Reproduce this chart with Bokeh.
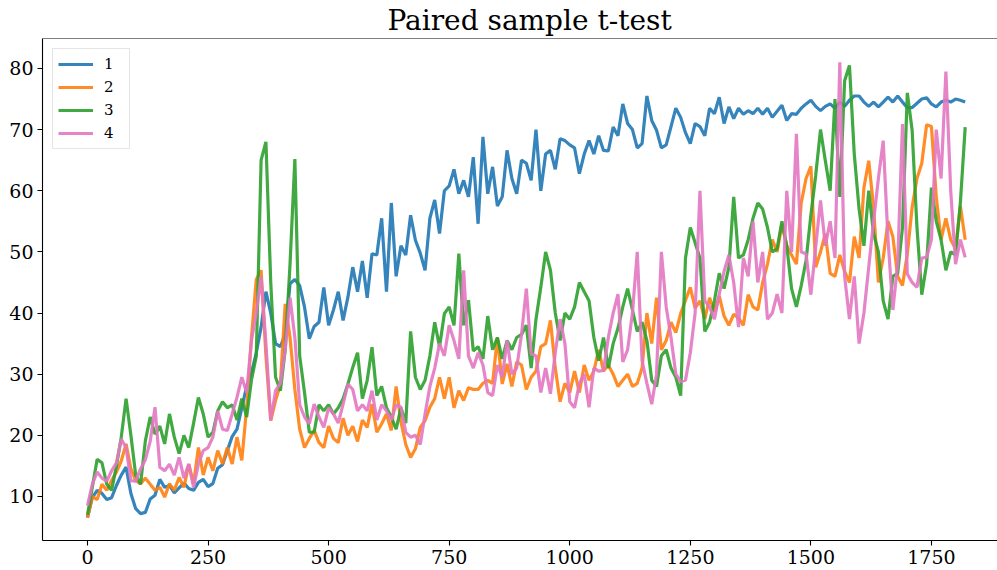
from bokeh.plotting import figure
from bokeh.models import Range1d, FixedTicker, Span
from bokeh.embed import file_html
from bokeh.resources import INLINE

STEP = 10
X = list(range(0, 1830, STEP))

S1 = [6.6, 9.8, 11.0, 10.5, 9.5, 9.8, 11.8, 13.5, 14.8, 10.5,
      8.0, 7.2, 7.4, 9.6, 10.2, 12.8, 11.5, 11.8, 10.6, 11.4,
      12.2, 11.3, 11.0, 12.3, 12.8, 11.6, 12.1, 14.6, 15.2, 17.5,
      19.8, 21.0, 24.5, 28.0, 30.2, 33.5, 37.7, 43.5, 40.0, 35.0,
      34.5, 36.5, 44.8, 45.5, 44.5, 41.0, 35.8, 37.8, 38.5, 44.2,
      38.0, 40.5, 43.5, 38.8, 42.6, 47.5, 43.5, 48.5, 42.5, 49.7,
      49.5, 55.5, 43.5, 58.0, 46.0, 51.0, 49.5, 56.0, 51.9, 49.8,
      47.0, 55.5, 58.5, 53.0, 60.0, 60.8, 63.5, 59.5, 61.7, 59.0,
      65.5, 54.6, 68.8, 59.5, 63.9, 57.5, 59.0, 66.6, 62.0, 59.5,
      65.0, 64.5, 61.7, 70.0, 60.0, 66.0, 66.6, 63.5, 68.5, 68.2,
      67.5, 67.0, 62.8, 66.0, 68.2, 66.0, 69.0, 66.6, 66.5, 70.4,
      69.0, 74.2, 71.0, 70.0, 67.0, 67.7, 75.5, 71.5, 69.9, 67.0,
      67.5, 70.5, 73.5, 72.0, 69.5, 67.7, 71.0, 70.5, 69.0, 73.5,
      72.6, 75.3, 71.0, 73.7, 71.8, 73.5, 72.5, 73.1, 72.6, 73.5,
      72.5, 73.5, 72.0, 73.0, 74.0, 71.5, 72.6, 72.5, 73.5, 74.2,
      74.8, 73.8, 73.1, 73.8, 74.2, 73.5, 74.5, 73.8, 74.8, 75.5,
      75.5, 74.5, 73.8, 74.5, 73.7, 74.5, 75.3, 74.5, 75.5, 74.5,
      73.6, 73.6, 74.3, 75.0, 75.2, 74.2, 73.7, 74.5, 74.8, 74.5,
      75.0, 74.8, 74.5]

S2 = [6.5, 10.0, 9.5, 12.0, 11.0, 12.6, 14.0, 15.8, 18.6, 14.5,
      12.6, 12.1, 13.0, 12.0, 11.0, 11.5, 9.9, 12.1, 11.0, 13.1,
      11.5, 15.3, 12.1, 18.0, 13.5, 16.4, 14.2, 17.5, 15.3, 18.0,
      15.3, 19.7, 15.9, 24.5, 36.0, 45.5, 47.0, 33.0, 22.4, 25.7,
      28.4, 41.5, 36.0, 27.5, 21.0, 18.0, 19.5, 20.8, 18.8, 18.0,
      21.5, 19.5, 18.8, 22.8, 20.0, 21.5, 19.0, 22.5, 21.3, 25.1,
      20.5, 21.9, 23.5, 20.8, 28.0, 22.2, 18.5, 16.4, 17.8, 21.3,
      22.4, 24.6, 26.0, 29.5, 26.0, 29.5, 24.5, 27.3, 25.7, 27.8,
      27.5, 27.5, 28.5, 29.0, 28.5, 36.0, 28.4, 31.7, 28.0, 32.0,
      31.5, 27.5, 29.5, 30.5, 34.5, 35.0, 38.8, 31.0, 25.5, 28.5,
      27.0, 30.5, 27.0, 31.5, 29.0, 30.5, 34.0, 30.5, 31.5, 30.0,
      28.0, 29.0, 30.0, 28.0, 28.5, 31.0, 40.0, 35.0, 42.5, 34.0,
      35.5, 38.5, 36.8, 39.9, 42.1, 44.2, 40.8, 42.0, 39.0, 42.5,
      40.2, 42.8, 39.5, 38.0, 39.8, 39.2, 38.0, 43.0, 41.0, 40.5,
      45.0, 48.0, 52.0, 50.0, 54.5, 51.0, 49.5, 48.0, 58.0, 62.0,
      64.0, 47.5, 50.0, 53.0, 46.5, 46.0, 49.5, 46.8, 45.0, 52.5,
      49.0, 60.5, 64.9, 57.3, 45.0, 49.0, 55.0, 52.5, 46.0, 44.5,
      49.7, 57.3, 62.0, 64.5, 70.8, 70.5, 59.0, 52.0, 55.5, 52.0,
      50.5, 57.5, 52.0]

S3 = [7.0, 11.5, 16.1, 15.5, 12.0, 11.0, 15.0, 19.7, 26.0, 20.0,
      13.5, 12.0, 19.1, 23.0, 20.2, 21.5, 18.6, 23.5, 19.7, 17.0,
      20.0, 18.0, 22.0, 26.2, 23.5, 19.7, 20.5, 24.0, 25.5, 24.5,
      25.0, 22.5, 26.0, 23.0, 29.0, 33.0, 65.0, 68.0, 45.0, 29.5,
      27.3, 34.0, 48.0, 65.2, 33.0, 27.0, 20.5, 20.5, 25.0, 24.0,
      25.0, 23.5, 24.5, 26.0, 28.4, 31.1, 33.5, 26.0, 29.0, 34.4,
      26.5, 28.0, 24.5, 23.0, 21.0, 24.5, 22.0, 37.0, 29.5, 27.5,
      29.0, 33.0, 38.5, 34.5, 39.9, 41.0, 38.0, 49.7, 38.0, 42.1,
      33.8, 34.5, 32.5, 39.5, 34.0, 36.0, 32.5, 35.5, 34.0, 36.0,
      36.5, 38.0, 31.0, 39.0, 44.2, 50.0, 47.0, 40.0, 35.5, 40.0,
      39.0, 41.0, 45.0, 43.5, 42.0, 36.0, 32.2, 36.0, 31.0, 35.0,
      37.5, 41.0, 44.0, 40.5, 37.0, 38.5, 35.5, 29.0, 28.0, 33.0,
      34.0, 31.0, 29.5, 26.5, 49.0, 54.0, 51.5, 49.0, 37.0, 38.5,
      42.0, 46.5, 44.0, 47.5, 59.0, 49.0, 49.5, 52.0, 55.5, 58.0,
      57.0, 54.0, 50.0, 50.5, 55.0, 51.0, 44.0, 41.0, 44.5, 48.6,
      56.0, 62.5, 70.0, 64.9, 60.0, 75.0, 59.0, 78.0, 80.5, 66.0,
      57.0, 51.0, 60.0, 53.0, 50.0, 42.0, 39.0, 46.0, 46.5, 54.0,
      76.0, 69.9, 54.0, 43.0, 48.0, 60.5, 55.0, 52.0, 47.0, 50.0,
      49.5, 58.0, 70.4]

S4 = [8.5, 12.0, 14.0, 13.0, 12.5, 14.2, 15.5, 19.4, 18.0, 12.6,
      12.5, 14.5, 16.0, 19.0, 24.6, 14.8, 14.2, 15.3, 13.5, 16.4,
      13.0, 15.3, 11.5, 15.3, 17.5, 18.0, 19.7, 24.0, 21.0, 20.8,
      23.5, 26.2, 29.5, 27.0, 35.5, 40.0, 46.0, 35.0, 22.5, 27.3,
      28.5, 34.0, 42.5, 36.0, 25.0, 23.0, 21.9, 25.1, 23.0, 21.3,
      24.5, 23.5, 22.0, 25.1, 28.4, 27.5, 24.0, 25.0, 24.0, 27.3,
      22.5, 25.0, 24.0, 22.5, 25.0, 24.6, 20.5, 19.7, 20.0, 18.5,
      23.5, 28.0, 31.0, 35.0, 33.0, 38.0, 35.5, 32.5, 47.0, 33.0,
      31.0, 33.5, 31.5, 27.0, 26.5, 31.5, 29.5, 35.5, 30.0, 31.0,
      36.5, 44.0, 33.3, 33.0, 27.0, 31.0, 26.8, 33.5, 39.0, 35.0,
      25.5, 24.5, 28.5, 30.0, 24.6, 31.0, 30.5, 30.6, 36.0, 40.0,
      43.1, 32.0, 34.0, 40.0, 50.0, 32.2, 28.5, 25.1, 30.0, 50.0,
      41.0, 36.0, 30.0, 28.8, 29.0, 33.5, 40.0, 60.0, 42.0, 41.0,
      39.0, 43.1, 46.8, 49.5, 45.0, 37.7, 49.0, 46.0, 55.0, 45.0,
      50.0, 39.0, 40.0, 43.1, 40.0, 60.0, 50.0, 69.3, 50.0, 49.7,
      43.0, 50.8, 58.4, 51.0, 55.0, 49.0, 81.0, 46.0, 39.0, 46.0,
      35.0, 40.0, 47.5, 55.0, 62.0, 68.2, 52.0, 40.5, 48.0, 70.9,
      46.4, 45.0, 44.2, 49.0, 49.1, 52.0, 70.0, 62.0, 79.5, 60.0,
      48.0, 52.0, 49.1]

SERIES = [("1", S1), ("2", S2), ("3", S3), ("4", S4)]
COLORS = ["#1f77b4", "#ff7f0e", "#2ca02c", "#e377c2"]
XTICKS = [0, 250, 500, 750, 1000, 1250, 1500, 1750]
YTICKS = [10, 20, 30, 40, 50, 60, 70, 80]

FONT = "DejaVu Serif"

p = figure(width=997, height=570, output_backend="svg", toolbar_location=None,
           x_range=Range1d(-93.3, 1887), y_range=Range1d(2.8, 84.9),
           min_border_left=42, min_border_right=0, min_border_top=38,
           min_border_bottom=30, title="Paired sample t-test")

p.title.text_font = FONT
p.title.text_font_size = "28px"
p.title.text_font_style = "normal"
p.title.text_color = "black"
p.title.align = "left"
p.title.offset = 345
p.title.standoff = 3

for (name, ys), c in zip(SERIES, COLORS):
    p.line(X, ys, line_color=c, line_width=3.2, line_alpha=0.9, legend_label=name)

p.xgrid.visible = False
p.ygrid.visible = False
p.outline_line_color = None
p.add_layout(Span(location=84.9, dimension="width", line_color="black", line_width=1.1))

for ax, ticks in ((p.xaxis[0], XTICKS), (p.yaxis[0], YTICKS)):
    ax.ticker = FixedTicker(ticks=ticks)
    ax.minor_tick_line_color = None
    ax.major_tick_in = 0
    ax.major_tick_out = 5
    ax.major_tick_line_width = 1.1
    ax.major_tick_line_color = "black"
    ax.axis_line_color = "black"
    ax.axis_line_width = 1.1
    ax.major_label_text_font = FONT
    ax.major_label_text_font_size = "19px"
    ax.major_label_text_color = "black"
    ax.major_label_standoff = 4

lg = p.legend[0]
lg.location = "top_left"
lg.margin = 10
lg.padding = 5
lg.spacing = 3
lg.glyph_width = 35
lg.glyph_height = 20
lg.label_height = 20
lg.label_standoff = 11
lg.label_text_font = FONT
lg.label_text_font_size = "15px"
lg.label_text_color = "black"
lg.border_line_color = "#cccccc"
lg.border_line_width = 1
lg.background_fill_alpha = 0.8

open("out.html", "w").write(file_html(p, INLINE))
